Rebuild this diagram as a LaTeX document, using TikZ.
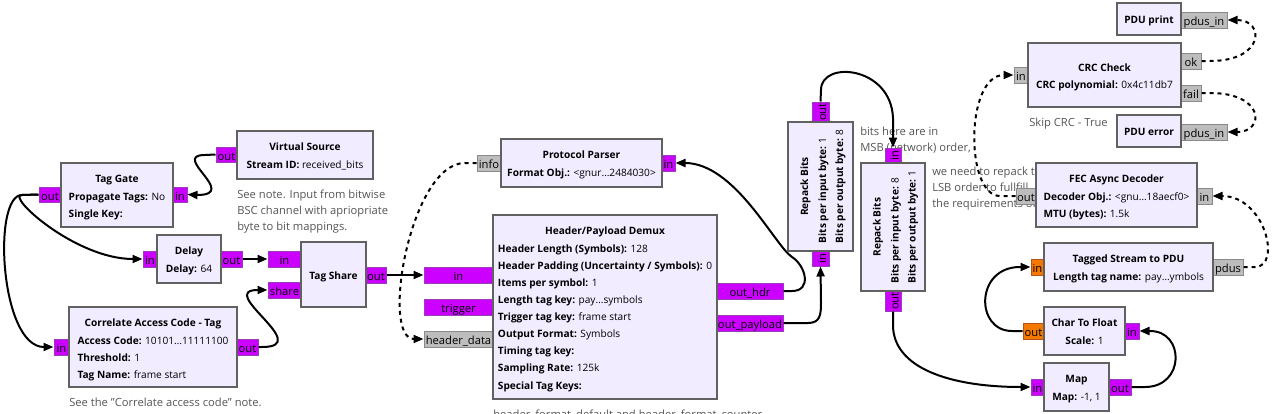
\documentclass[tikz,border=0pt]{standalone}
\usepackage{fontspec}
\setmainfont{Open Sans}
\usetikzlibrary{arrows.meta,fit,calc}
\definecolor{blkfill}{HTML}{F1ECFF}
\definecolor{blkdraw}{HTML}{616161}
\definecolor{magfill}{HTML}{CC00FF}
\definecolor{magdraw}{HTML}{9A3DB8}
\definecolor{orfill}{HTML}{F57900}
\definecolor{ordraw}{HTML}{B4531B}
\definecolor{gyfill}{HTML}{BDBDBD}
\definecolor{gydraw}{HTML}{8A8A8A}
\definecolor{notecol}{HTML}{555555}
\newcommand\grcfont{\fontsize{7.6}{12.8}\selectfont}
\newcommand\cmtfont{\fontsize{8.4}{10}\selectfont}
\tikzset{
 blk/.style={draw=blkdraw, fill=blkfill, line width=1.6pt, inner sep=0pt},
 prt/.style={line width=0.75pt, inner sep=0pt},
 pm/.style={prt, draw=magdraw, fill=magfill},
 po/.style={prt, draw=ordraw, fill=orfill},
 pg/.style={prt, draw=gydraw, fill=gyfill},
 plbl/.style={font=\cmtfont, inner sep=0pt, text height=8.6pt, text depth=0pt},
 wire/.style={line width=1.5pt, -{Triangle[length=7.5pt,width=6pt]}},
 mwire/.style={wire, dash pattern=on 3pt off 3pt},
 ttl/.style={font=\grcfont\bfseries, anchor=base, inner sep=0pt},
 par/.style={anchor=base, inner sep=0pt},
 cmt/.style={font=\cmtfont, text=notecol, anchor=base west, inner sep=0pt},
}
\newcommand\port[7]{\node[#1, fit={(#3,#4)(#5,#6)}] (#2) {};\node[plbl] (#2-l) at (#2.center) {#7};}
\newcommand\rport[7]{\node[#1, fit={(#3,#4)(#5,#6)}] (#2) {};\node[plbl, rotate=90] (#2-l) at (#2.center) {#7};}
\newcommand\blockbox[5]{\node[blk, fit={(#2,#3)(#4,#5)}] (#1) {};}
\newcommand\prm[1]{\begin{tabular}[t]{@{}l@{}}#1\end{tabular}}
\begin{document}
\begin{tikzpicture}[x=0.75pt,y=-0.75pt,font=\grcfont]
\useasboundingbox (0,0) rectangle (1279,414);
\clip (0,0) rectangle (1279,414);

% comments
\node[cmt] (c1a) at (237,198) {See note. Input from bitwise};
\node[cmt] (c1b) at (237,214) {BSC channel with apriopriate};
\node[cmt] (c1c) at (237,230) {byte to bit mappings.};
\node[cmt] (c2) at (69,406) {See the "Correlate access code" note.};
\node[cmt] (c3) at (493,418) {header\_format\_default and header\_format\_counter};
\node[cmt] (c4) at (1029,126) {Skip CRC - True};
\node[cmt] (c5a) at (860,135) {bits here are in};
\node[cmt] (c5b) at (860,151) {MSB (network) order,};
\node[cmt] (c6a) at (932,175) {we need to repack them in};
\node[cmt] (c6b) at (932,191) {LSB order to fullfill};
\node[cmt] (c6c) at (932,207) {the requirements of the FEC};

% ports
\port{pm}{vsout}{216}{147}{237}{162}{out}
\port{pm}{tgout}{39}{187}{61}{202}{out}
\port{pm}{tgin}{173}{187}{187}{202}{in}
\port{pm}{dlin}{143}{251}{157}{267}{in}
\port{pm}{dlout}{221}{251}{242}{267}{out}
\port{pm}{tsin}{268}{251}{301}{267}{in}
\port{pm}{tsshare}{268}{282}{301}{298}{share}
\port{pm}{tsout}{366}{267}{386}{283}{out}
\port{pm}{cacin}{54}{339}{69}{355}{in}
\port{pm}{cacout}{237}{339}{258}{355}{out}
\port{pg}{ppinfo}{477}{155}{501}{171}{info}
\port{pm}{ppin}{662}{155}{675}{171}{in}
\port{pm}{dmin}{424}{267}{493}{283}{in}
\port{pm}{dmtrig}{424}{299}{493}{315}{trigger}
\port{pg}{dmhd}{424}{331}{493}{347}{header\_data}
\port{pm}{dmhdr}{717}{283}{783}{299}{out\_hdr}
\port{pm}{dmpl}{717}{315}{783}{331}{out\_payload}
\rport{pm}{rpaout}{812}{102}{829}{122}{out}
\rport{pm}{rpain}{812}{251}{829}{266}{in}
\rport{pm}{rpbin}{885}{148}{901}{163}{in}
\rport{pm}{rpbout}{885}{291}{901}{311}{out}
\port{pg}{crcin}{1014}{67}{1028}{83}{in}
\port{pg}{crcok}{1181}{53}{1201}{69}{ok}
\port{pg}{crcfail}{1181}{85}{1201}{101}{fail}
\port{pg}{prin}{1181}{12}{1227}{28}{pdus\_in}
\port{pg}{erin}{1181}{124}{1227}{140}{pdus\_in}
\port{pg}{fecout}{1016}{188}{1036}{204}{out}
\port{pg}{fecin}{1197}{188}{1212}{204}{in}
\port{po}{tspin}{1031}{259}{1044}{275}{in}
\port{pg}{tsppdus}{1213}{259}{1243}{275}{pdus}
\port{po}{ctfout}{1023}{323}{1044}{339}{out}
\port{pm}{ctfin}{1125}{323}{1139}{339}{in}
\port{pm}{mapin}{1031}{379}{1044}{395}{in}
\port{pm}{mapout}{1109}{379}{1131}{395}{out}

% wires
\draw[wire] (vsout.west) -- (205,155) .. controls (170,155) and (240,195) .. (197,195) -- (tgin.east);
\draw[wire] (tgout.west) -- (22,195) .. controls (5,195) and (75,259) .. (133,259) -- (dlin.west);
\draw[wire] (tgout.west) -- (22,195) .. controls (-8,195) and (0,347) .. (44,347) -- (cacin.west);
\draw[wire] (dlout.east) -- (tsin.west);
\draw[wire] (cacout.east) -- (262,347) .. controls (315,347) and (215,290) .. (258,290) -- (tsshare.west);
\draw[wire] (tsout.east) -- (dmin.west);
\draw[mwire] (ppinfo.west) -- (465,163) .. controls (410,163) and (380,339) .. (414,339) -- (dmhd.west);
\draw[wire] (dmhdr.east) -- (792,291) .. controls (812,291) and (806,266) .. (792,257) .. controls (775,246) and (735,163) .. (685,163) -- (ppin.east);
\draw[wire] (dmpl.east) -- (808,323) .. controls (820,323) and (821,315) .. (821,303) -- (rpain.south);
\draw[wire] (rpaout.north) -- (821,90) .. controls (821,60) and (891,66) .. (893,118) -- (rpbin.north);
\draw[wire] (rpbout.south) -- (893,325) .. controls (893,368) and (950,387) .. (1021,387) -- (mapin.west);
\draw[wire] (mapout.east) -- (1145,387) .. controls (1185,387) and (1185,331) .. (1150,331) -- (ctfin.east);
\draw[wire] (ctfout.west) -- (1012,331) .. controls (975,331) and (975,267) .. (1020,267) -- (tspin.west);
\draw[mwire] (tsppdus.east) -- (1255,267) .. controls (1282,267) and (1265,196) .. (1222,196) -- (fecin.east);
\draw[mwire] (fecout.west) -- (1000,196) .. controls (965,196) and (965,75) .. (1004,75) -- (crcin.west);
\draw[mwire] (crcok.east) -- (1210,61) .. controls (1265,61) and (1265,20) .. (1237,20) -- (prin.east);
\draw[mwire] (crcfail.east) -- (1210,93) .. controls (1265,93) and (1265,132) .. (1237,132) -- (erin.east);

% blocks
\blockbox{vs}{237}{131}{373}{179}
\blockbox{tg}{61}{163}{173}{227}
\blockbox{dl}{157}{235}{221}{283}
\blockbox{ts}{301}{242}{366}{307}
\blockbox{cac}{69}{307}{237}{387}
\blockbox{pp}{501}{139}{662}{187}
\blockbox{dm}{493}{215}{717}{399}
\blockbox{rpa}{788}{122}{853}{251}
\blockbox{rpb}{861}{163}{925}{291}
\blockbox{crc}{1028}{43}{1181}{107}
\blockbox{pr}{1117}{3}{1181}{35}
\blockbox{er}{1117}{115}{1181}{147}
\blockbox{fec}{1036}{163}{1197}{227}
\blockbox{tsp}{1044}{243}{1213}{291}
\blockbox{ctf}{1044}{307}{1125}{355}
\blockbox{map}{1044}{363}{1109}{411}

% block texts
\node[ttl] (vs-t) at (305,150) {Virtual Source};
\node[par] (vs-p) at (305,168) {\prm{\textbf{Stream ID:} received\_bits}};
\node[ttl] (tg-t) at (117,182) {Tag Gate};
\node[par] (tg-p) at (117,200) {\prm{\textbf{Propagate Tags:} No\\\textbf{Single Key:}}};
\node[ttl] (dl-t) at (189,254) {Delay};
\node[par] (dl-p) at (189,272) {\prm{\textbf{Delay:} 64}};
\node[ttl] (ts-t) at (333.5,279) {Tag Share};
\node[ttl] (cac-t) at (153,326) {Correlate Access Code - Tag};
\node[par] (cac-p) at (153,344) {\prm{\textbf{Access Code:} 10101…11111100\\\textbf{Threshold:} 1\\\textbf{Tag Name:} frame start}};
\node[ttl] (pp-t) at (581.5,158) {Protocol Parser};
\node[par] (pp-p) at (581.5,176) {\prm{\textbf{Format Obj.:} <gnur…2484030>}};
\node[ttl] (dm-t) at (605,234) {Header/Payload Demux};
\node[par] (dm-p) at (605,252.5) {\prm{\textbf{Header Length (Symbols):} 128\\
\textbf{Header Padding (Uncertainty / Symbols):} 0\\
\textbf{Items per symbol:} 1\\
\textbf{Length tag key:} pay…symbols\\
\textbf{Trigger tag key:} frame start\\
\textbf{Output Format:} Symbols\\
\textbf{Timing tag key:}\\
\textbf{Sampling Rate:} 125k\\
\textbf{Special Tag Keys:}}};
\node[ttl, rotate=90] (rpa-t) at (808,186.5) {Repack Bits};
\node[par, rotate=90] (rpa-p) at (826,186.5) {\prm{\textbf{Bits per input byte:} 1\\\textbf{Bits per output byte:} 8}};
\node[ttl, rotate=90] (rpb-t) at (880.5,227) {Repack Bits};
\node[par, rotate=90] (rpb-p) at (898.5,227) {\prm{\textbf{Bits per input byte:} 8\\\textbf{Bits per output byte:} 1}};
\node[ttl] (crc-t) at (1104.5,71) {CRC Check};
\node[par] (crc-p) at (1104.5,88.7) {\prm{\textbf{CRC polynomial:} 0x4c11db7}};
\node[ttl] (pr-t) at (1149,23) {PDU print};
\node[ttl] (er-t) at (1149,135) {PDU error};
\node[ttl] (fec-t) at (1116.5,182) {FEC Async Decoder};
\node[par] (fec-p) at (1116.5,200) {\prm{\textbf{Decoder Obj.:} <gnu…18aecf0>\\\textbf{MTU (bytes):} 1.5k}};
\node[ttl] (tsp-t) at (1128.5,262) {Tagged Stream to PDU};
\node[par] (tsp-p) at (1128.5,280) {\prm{\textbf{Length tag name:} pay…ymbols}};
\node[ttl] (ctf-t) at (1084.5,326) {Char To Float};
\node[par] (ctf-p) at (1084.5,344) {\prm{\textbf{Scale:} 1}};
\node[ttl] (map-t) at (1076.5,382) {Map};
\node[par] (map-p) at (1076.5,400) {\prm{\textbf{Map:} -1, 1}};
\end{tikzpicture}
\end{document}
